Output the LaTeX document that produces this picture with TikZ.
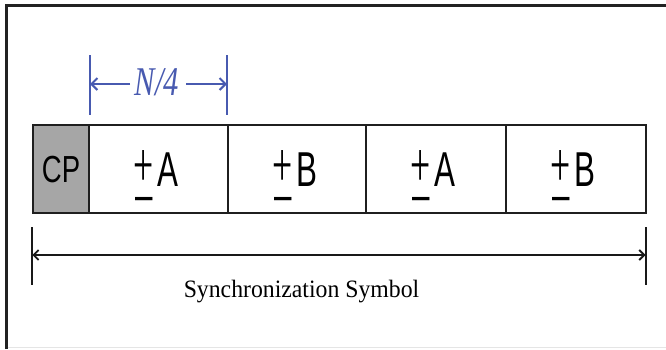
\documentclass[tikz,border=0pt]{standalone}
\usepackage{fontspec}
\setmainfont{Liberation Serif}
\newfontfamily\sansf{Liberation Sans}
\usetikzlibrary{arrows.meta}
\definecolor{cpgray}{RGB}{166,166,166}
\definecolor{dimblue}{RGB}{72,90,176}
\definecolor{framegray}{RGB}{34,34,34}
\newcommand{\pmletter}[1]{%
  \rlap{\kern1.9pt\scalebox{0.64}[1]{\fontsize{49}{49}\selectfont\sansf\raisebox{-25.7pt}{–}}}%
  \raisebox{-0.5pt}{\scalebox{0.73}[1.3]{\fontsize{49}{49}\selectfont +}}%
  \kern4.4pt\scalebox{0.64}[1]{\fontsize{49}{49}\selectfont\sansf #1}}
\tikzset{
  seg/.style={draw=black!88, line width=1.3pt, minimum height=88pt, inner sep=0pt, outer sep=0pt, anchor=north west},
  segtxt/.style={inner sep=0pt, anchor=base west},
  bluetick/.style={draw=dimblue, line width=2.3pt},
  bluearr/.style={draw=dimblue, line width=2pt, -{Straight Barb[length=6pt,width=12pt,line width=2pt]}},
  blacktick/.style={draw=black!90, line width=2pt},
  blackarr/.style={draw=black!90, line width=1.2pt, {Straight Barb[length=5pt,width=10pt,line width=1.8pt]}-{Straight Barb[length=5pt,width=10pt,line width=1.8pt]}}
}
\begin{document}
\begin{tikzpicture}[x=1pt,y=-1pt]
\useasboundingbox (0,0) rectangle (666,349);
% frame
\draw[draw=black!10, line width=1pt] (7,347.5) -- (666,347.5);
\draw[draw=framegray, line width=2.6pt] (6.5,349) -- (6.5,5.6) -- (666,5.6);
% segments
\node[seg, minimum width=140pt] (b2) at (506,125) {};
\node[seg, minimum width=140pt] (a2) at (366,125) {};
\node[seg, line width=1.8pt, minimum width=138pt] (b1) at (228,125) {};
\node[seg, line width=1.8pt, minimum width=139pt] (a1) at (89,125) {};
\node[seg, line width=1.8pt, fill=cpgray, minimum width=56pt] (cp) at (33,125) {};
% texts in segments
\node[inner sep=0pt, anchor=base] (cptxt) at (61,182) {\scalebox{0.73}[1]{\fontsize{37.7}{37.7}\selectfont\sansf CP}};
\node[segtxt] (ta1) at (89+44,186) {\pmletter{A}};
\node[segtxt] (tb1) at (228+44,186) {\pmletter{B}};
\node[segtxt] (ta2) at (366+44,186) {\pmletter{A}};
\node[segtxt] (tb2) at (506+44,186) {\pmletter{B}};
% N/4 dimension
\coordinate (nlt) at (90,55);
\coordinate (nlb) at (90,115);
\coordinate (nrt) at (227,55);
\coordinate (nrb) at (227,115);
\coordinate (nlm) at (90,84);
\coordinate (nrm) at (227,84);
\draw[bluetick] (nlt) -- (nlb);
\draw[bluetick] (nrt) -- (nrb);
\node[inner sep=0pt, anchor=base, text=dimblue] (n4) at (157,95) {\scalebox{0.75}[1]{\fontsize{40.8}{40.8}\selectfont\itshape N/4}};
\coordinate (n4l) at (130,84);
\coordinate (n4r) at (186,84);
\draw[bluearr] (n4l) -- (nlm);
\draw[bluearr] (n4r) -- (nrm);
% synchronization symbol dimension
\coordinate (slt) at (32.3,227);
\coordinate (slb) at (32.3,285);
\coordinate (srt) at (645.5,227);
\coordinate (srb) at (645.5,285);
\coordinate (slm) at (32.3,255);
\coordinate (srm) at (645.5,255);
\draw[blacktick] (slt) -- (slb);
\draw[blacktick] (srt) -- (srb);
\draw[blackarr] (slm) -- (srm);
\node[inner sep=0pt, anchor=base] (sync) at (301.5,297) {\scalebox{0.95}[1]{\fontsize{25}{25}\selectfont Synchronization Symbol}};
\end{tikzpicture}
\end{document}
